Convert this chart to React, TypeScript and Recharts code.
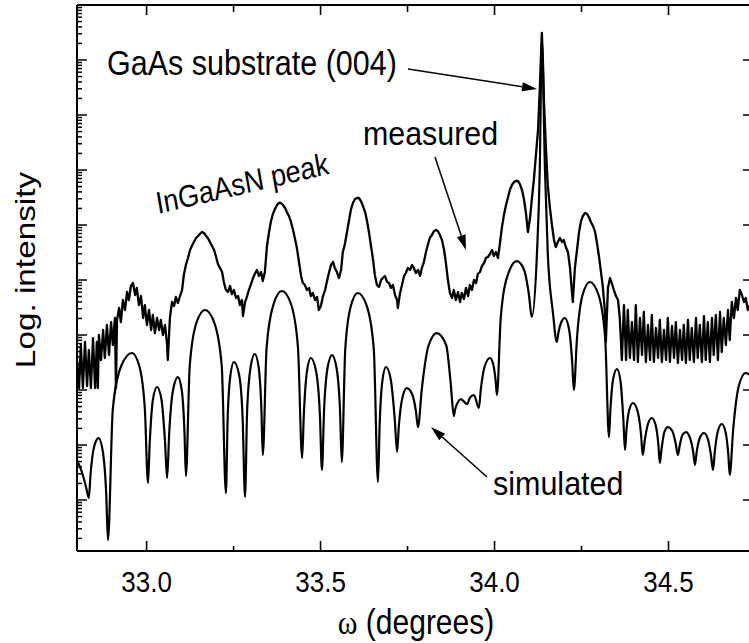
import React from 'react';
import { LineChart, Line, XAxis, YAxis } from 'recharts';

const FONT = '"Liberation Sans", Arial, Helvetica, sans-serif';
const STRETCH = 1.15;

// ---------- axes ----------
const X_DOMAIN: [number, number] = [32.8, 34.74];
const Y_DOMAIN: [number, number] = [-0.927, 9];
const xMajorTicks = [33.0, 33.5, 34.0, 34.5];
const xTickLabels = ['33.0', '33.5', '34.0', '34.5'];
const xMinorTicks = [33.25, 33.75, 34.25];
const yDecades = [0, 1, 2, 3, 4, 5, 6, 7, 8, 9];
const yMinorMultipliers = [2, 3, 4, 5, 6, 7, 8, 9];

// ---------- simulated curve (x in degrees, y = log10 intensity) ----------
const simX = [
  32.800, 32.814, 32.826, 32.834, 32.839, 32.849, 32.862, 32.874, 32.884, 32.889,
  32.903, 32.927, 32.958, 32.979, 32.995, 33.004, 33.009, 33.018, 33.030, 33.043,
  33.053, 33.059, 33.065, 33.076, 33.090, 33.101, 33.109, 33.113, 33.124, 33.143,
  33.168, 33.195, 33.216, 33.228, 33.233, 33.241, 33.251, 33.266, 33.276, 33.283,
  33.289, 33.299, 33.311, 33.322, 33.330, 33.334, 33.345, 33.365, 33.389, 33.415,
  33.435, 33.447, 33.452, 33.461, 33.472, 33.487, 33.498, 33.504, 33.510, 33.520,
  33.533, 33.546, 33.556, 33.561, 33.571, 33.587, 33.607, 33.633, 33.653, 33.665,
  33.670, 33.678, 33.688, 33.702, 33.713, 33.720, 33.725, 33.735, 33.748, 33.763,
  33.774, 33.780, 33.791, 33.810, 33.834, 33.861, 33.874, 33.883, 33.887, 33.895,
  33.903, 33.921, 33.929, 33.941, 33.955, 33.961, 33.972, 33.987, 33.996, 34.003,
  34.007, 34.018, 34.039, 34.064, 34.084, 34.099, 34.107, 34.122, 34.130, 34.136,
  34.145, 34.153, 34.168, 34.179, 34.184, 34.192, 34.202, 34.214, 34.223, 34.228,
  34.237, 34.253, 34.274, 34.299, 34.318, 34.329, 34.333, 34.341, 34.352, 34.362,
  34.370, 34.375, 34.379, 34.387, 34.398, 34.411, 34.421, 34.426, 34.432, 34.441,
  34.452, 34.463, 34.471, 34.475, 34.480, 34.488, 34.498, 34.511, 34.521, 34.527,
  34.532, 34.540, 34.550, 34.561, 34.571, 34.576, 34.581, 34.590, 34.602, 34.613,
  34.622, 34.628, 34.633, 34.642, 34.653, 34.664, 34.672, 34.676, 34.686, 34.702,
  34.722, 34.738,
];
const simY = [
  0.727, 0.509, 0.236, 0.036, 0.473, 0.964, 1.127, 0.891, 0.109, -0.727,
  1.655, 2.436, 2.673, 2.436, 1.655, 0.309, 1.036, 1.818, 2.055, 1.818,
  1.055, 0.400, 1.218, 2.000, 2.236, 2.000, 1.218, 0.436, 2.436, 3.218,
  3.455, 3.218, 2.436, 0.127, 1.491, 2.273, 2.509, 2.273, 1.491, 0.055,
  1.636, 2.418, 2.655, 2.418, 1.636, 0.818, 2.782, 3.564, 3.800, 3.564,
  2.782, 0.764, 1.564, 2.345, 2.582, 2.345, 1.564, 0.545, 1.618, 2.400,
  2.636, 2.400, 1.618, 0.691, 2.745, 3.527, 3.764, 3.527, 2.745, 0.327,
  1.400, 2.182, 2.418, 2.182, 1.491, 0.873, 1.345, 1.855, 2.036, 1.927,
  1.618, 1.327, 2.018, 2.800, 3.036, 2.818, 2.127, 1.527, 1.655, 1.782,
  1.836, 1.745, 1.855, 1.909, 1.673, 2.036, 2.436, 2.582, 2.473, 2.182,
  1.909, 3.327, 4.109, 4.345, 4.200, 3.727, 3.327, 4.491, 6.000, 8.364,
  6.000, 4.491, 3.400, 2.873, 3.055, 3.236, 3.309, 3.109, 2.527, 2.000,
  2.945, 3.727, 3.964, 3.727, 2.945, 1.145, 1.636, 2.200, 2.382, 2.164,
  1.491, 0.909, 1.255, 1.636, 1.764, 1.618, 1.200, 0.818, 1.091, 1.382,
  1.491, 1.364, 1.000, 0.673, 0.927, 1.236, 1.327, 1.255, 1.018, 0.818,
  0.982, 1.182, 1.236, 1.145, 0.873, 0.636, 0.873, 1.127, 1.218, 1.109,
  0.818, 0.545, 0.873, 1.255, 1.382, 1.236, 0.818, 0.455, 1.291, 2.073,
  2.309, 2.255,
];

// ---------- measured curve ----------
const measX = [
  32.800, 32.806, 32.811, 32.817, 32.823, 32.829, 32.834, 32.840, 32.846, 32.852,
  32.857, 32.860, 32.863, 32.869, 32.875, 32.880, 32.886, 32.892, 32.898, 32.903,
  32.909, 32.912, 32.915, 32.921, 32.926, 32.932, 32.938, 32.944, 32.949, 32.955,
  32.961, 32.967, 32.972, 32.978, 32.984, 32.990, 32.995, 33.001, 33.007, 33.013,
  33.018, 33.024, 33.030, 33.036, 33.041, 33.047, 33.053, 33.059, 33.061, 33.067,
  33.073, 33.079, 33.084, 33.090, 33.096, 33.102, 33.107, 33.113, 33.119, 33.125,
  33.130, 33.136, 33.142, 33.148, 33.153, 33.159, 33.165, 33.171, 33.176, 33.182,
  33.188, 33.194, 33.199, 33.205, 33.211, 33.217, 33.222, 33.228, 33.234, 33.240,
  33.245, 33.251, 33.257, 33.263, 33.268, 33.274, 33.277, 33.283, 33.289, 33.294,
  33.300, 33.306, 33.311, 33.317, 33.323, 33.329, 33.334, 33.340, 33.346, 33.352,
  33.357, 33.363, 33.369, 33.375, 33.380, 33.386, 33.392, 33.398, 33.403, 33.409,
  33.415, 33.421, 33.426, 33.432, 33.438, 33.444, 33.449, 33.455, 33.461, 33.467,
  33.472, 33.478, 33.484, 33.490, 33.495, 33.501, 33.507, 33.513, 33.518, 33.524,
  33.530, 33.536, 33.541, 33.547, 33.553, 33.559, 33.564, 33.570, 33.576, 33.582,
  33.587, 33.593, 33.599, 33.605, 33.610, 33.616, 33.622, 33.628, 33.633, 33.639,
  33.645, 33.651, 33.656, 33.662, 33.668, 33.674, 33.679, 33.685, 33.691, 33.697,
  33.702, 33.708, 33.714, 33.720, 33.722, 33.728, 33.734, 33.740, 33.745, 33.751,
  33.757, 33.763, 33.768, 33.774, 33.780, 33.786, 33.791, 33.797, 33.803, 33.809,
  33.814, 33.820, 33.826, 33.832, 33.837, 33.843, 33.849, 33.855, 33.860, 33.866,
  33.872, 33.878, 33.883, 33.889, 33.895, 33.901, 33.906, 33.912, 33.918, 33.924,
  33.929, 33.935, 33.941, 33.947, 33.952, 33.958, 33.964, 33.970, 33.975, 33.981,
  33.987, 33.993, 33.998, 34.004, 34.010, 34.016, 34.021, 34.027, 34.033, 34.039,
  34.044, 34.050, 34.056, 34.061, 34.067, 34.073, 34.079, 34.084, 34.090, 34.096,
  34.102, 34.107, 34.113, 34.119, 34.125, 34.130, 34.133, 34.136, 34.139, 34.142,
  34.148, 34.153, 34.159, 34.165, 34.171, 34.176, 34.182, 34.188, 34.194, 34.199,
  34.205, 34.211, 34.217, 34.222, 34.225, 34.231, 34.237, 34.243, 34.248, 34.254,
  34.260, 34.266, 34.271, 34.277, 34.283, 34.289, 34.294, 34.300, 34.306, 34.311,
  34.317, 34.320, 34.326, 34.332, 34.337, 34.343, 34.349, 34.355, 34.360, 34.366,
  34.372, 34.378, 34.383, 34.389, 34.395, 34.401, 34.406, 34.412, 34.418, 34.424,
  34.429, 34.435, 34.441, 34.447, 34.452, 34.458, 34.464, 34.470, 34.475, 34.481,
  34.487, 34.493, 34.498, 34.504, 34.510, 34.516, 34.521, 34.527, 34.533, 34.539,
  34.544, 34.550, 34.556, 34.561, 34.567, 34.573, 34.579, 34.584, 34.590, 34.596,
  34.602, 34.607, 34.613, 34.619, 34.625, 34.630, 34.636, 34.642, 34.648, 34.653,
  34.659, 34.665, 34.671, 34.676, 34.682, 34.688, 34.694, 34.699, 34.705, 34.711,
  34.717, 34.722, 34.728, 34.734,
];
const measY = [
  2.545, 2.036, 2.818, 2.036, 2.873, 2.073, 2.727, 2.036, 2.945, 2.036,
  2.873, 2.036, 3.000, 2.545, 3.091, 2.582, 3.182, 2.636, 3.236, 2.818,
  3.309, 2.036, 3.273, 3.491, 3.236, 3.636, 3.455, 3.782, 3.636, 3.891,
  3.945, 3.727, 3.855, 3.545, 3.709, 3.309, 3.545, 3.182, 3.455, 3.091,
  3.364, 3.036, 3.309, 3.091, 3.273, 3.000, 3.182, 2.818, 2.545, 3.309,
  3.600, 3.527, 3.691, 3.582, 3.709, 3.818, 4.091, 4.273, 4.400, 4.545,
  4.618, 4.691, 4.764, 4.800, 4.836, 4.873, 4.855, 4.800, 4.764, 4.691,
  4.618, 4.545, 4.436, 4.291, 4.218, 4.145, 3.964, 3.818, 3.782, 3.891,
  3.745, 3.818, 3.673, 3.709, 3.545, 3.636, 3.345, 3.600, 3.709, 3.818,
  3.927, 4.036, 4.109, 4.182, 4.073, 4.145, 3.982, 4.145, 4.618, 4.873,
  5.055, 5.200, 5.291, 5.364, 5.400, 5.400, 5.364, 5.309, 5.236, 5.164,
  5.055, 4.909, 4.764, 4.582, 4.327, 4.073, 3.945, 3.909, 3.818, 3.855,
  3.709, 3.764, 3.636, 3.691, 3.455, 3.527, 3.709, 3.818, 3.964, 4.127,
  4.273, 4.327, 4.218, 4.145, 4.036, 4.182, 4.509, 4.655, 4.873, 5.091,
  5.273, 5.400, 5.473, 5.491, 5.491, 5.436, 5.345, 5.236, 5.091, 4.873,
  4.618, 4.364, 4.091, 3.909, 3.873, 4.000, 4.036, 4.073, 3.964, 3.945,
  3.855, 3.909, 3.727, 3.636, 3.491, 3.745, 3.909, 4.073, 4.127, 4.218,
  4.182, 4.273, 4.218, 4.127, 4.182, 4.073, 4.218, 4.327, 4.509, 4.655,
  4.764, 4.818, 4.891, 4.909, 4.891, 4.818, 4.727, 4.545, 4.327, 4.000,
  3.764, 3.673, 3.818, 3.636, 3.782, 3.600, 3.764, 3.655, 3.855, 3.709,
  3.909, 3.818, 4.000, 3.945, 4.109, 4.145, 4.255, 4.309, 4.400, 4.418,
  4.473, 4.545, 4.436, 4.509, 4.400, 4.691, 4.945, 5.182, 5.364, 5.509,
  5.636, 5.727, 5.782, 5.800, 5.800, 5.745, 5.636, 5.491, 5.236, 4.873,
  5.127, 5.455, 5.818, 6.273, 6.727, 7.455, 8.000, 8.491, 8.000, 7.273,
  6.364, 5.727, 5.327, 5.000, 4.727, 4.600, 4.691, 4.764, 4.691, 4.727,
  4.600, 4.509, 4.218, 3.818, 3.600, 4.218, 4.545, 4.873, 5.055, 5.164,
  5.218, 5.200, 5.145, 5.055, 4.982, 4.873, 4.691, 4.436, 4.145, 3.891,
  3.455, 2.873, 3.855, 4.036, 3.945, 3.818, 3.709, 3.636, 3.309, 2.545,
  3.545, 2.545, 3.455, 2.582, 3.236, 2.545, 3.545, 2.509, 3.309, 2.636,
  3.418, 2.509, 3.182, 2.545, 3.364, 2.509, 3.127, 2.582, 3.273, 2.509,
  3.091, 2.545, 3.309, 2.509, 3.164, 2.582, 3.236, 2.491, 3.091, 2.545,
  3.182, 2.491, 3.273, 2.545, 3.127, 2.509, 3.309, 2.582, 3.182, 2.509,
  3.345, 2.545, 3.236, 2.509, 3.309, 2.636, 3.364, 2.545, 3.418, 2.691,
  3.309, 2.818, 3.455, 2.909, 3.600, 3.309, 3.673, 3.455, 3.818, 3.727,
  3.600, 3.673, 3.455, 3.545,
];

const simData = simX.map((x, i) => ({ x, y: simY[i] }));
const measData = measX.map((x, i) => ({ x, y: measY[i] }));

// tick lists
const xTicks = [...xMajorTicks, ...xMinorTicks].sort((a, b) => a - b);
const yMinorTicks: number[] = [];
[-1, ...yDecades].forEach((d) => {
  yMinorMultipliers.forEach((m) => {
    const v = d + Math.log10(m);
    if (v > Y_DOMAIN[0] && v < Y_DOMAIN[1]) yMinorTicks.push(v);
  });
});
const yTicksLeft = [...yDecades, ...yMinorTicks].sort((a, b) => a - b);

const isMajorY = (v: number) => Math.abs(v - Math.round(v)) < 1e-6;
const majorXIndex = (v: number) => xMajorTicks.findIndex((t) => Math.abs(t - v) < 1e-6);

function BottomTick(props: any) {
  const { x, y, payload } = props;
  const idx = majorXIndex(payload.value);
  const major = idx >= 0;
  return (
    <g>
      <line x1={x} x2={x} y1={y} y2={y - (major ? 10 : 5)} stroke="#000" strokeWidth={1.6} />
      {major && (
        <text
          transform={`translate(${x},${y + 41}) scale(1,${STRETCH})`}
          textAnchor="middle"
          fontSize={26}
          fontFamily={FONT}
          fill="#000"
        >
          {xTickLabels[idx]}
        </text>
      )}
    </g>
  );
}

function TopTick(props: any) {
  const { x, y, payload } = props;
  const major = majorXIndex(payload.value) >= 0;
  return <line x1={x} x2={x} y1={y} y2={y + (major ? 10 : 7)} stroke="#000" strokeWidth={1.6} />;
}

function LeftTick(props: any) {
  const { x, y, payload } = props;
  const major = isMajorY(payload.value);
  return <line x1={x} x2={x + (major ? 10 : 5)} y1={y} y2={y} stroke="#000" strokeWidth={1.5} />;
}

function RightTick(props: any) {
  const { x, y } = props;
  return <line x1={x} x2={x - 9} y1={y} y2={y} stroke="#000" strokeWidth={1.5} />;
}

function Arrow({ x1, y1, x2, y2 }: { x1: number; y1: number; x2: number; y2: number }) {
  const dx = x2 - x1;
  const dy = y2 - y1;
  const L = Math.hypot(dx, dy);
  const ux = dx / L;
  const uy = dy / L;
  const hl = 15;
  const hw = 4.5;
  const bx = x2 - ux * hl;
  const by = y2 - uy * hl;
  const pts = `${x2},${y2} ${bx - uy * hw},${by + ux * hw} ${bx + uy * hw},${by - ux * hw}`;
  return (
    <g>
      <line x1={x1} y1={y1} x2={bx} y2={by} stroke="#000" strokeWidth={1.5} />
      <polygon points={pts} fill="#000" />
    </g>
  );
}

const axisLineStyle = { stroke: '#000', strokeWidth: 2 };

export default function App() {
  return (
    <div style={{ position: 'absolute', left: 0, top: 0, width: 749, height: 643, overflow: 'hidden', background: '#fff' }}>
      <LineChart width={749} height={643} margin={{ top: 4, right: -4, bottom: 91, left: 76 }}>
        <XAxis
          xAxisId="b"
          dataKey="x"
          type="number"
          orientation="bottom"
          domain={X_DOMAIN}
          allowDataOverflow
          ticks={xTicks}
          interval={0}
          height={1}
          tickSize={0}
          tickMargin={0}
          tickLine={false}
          axisLine={axisLineStyle}
          tick={(p: any) => <BottomTick {...p} />}
        />
        <XAxis
          xAxisId="t"
          dataKey="x"
          type="number"
          orientation="top"
          domain={X_DOMAIN}
          allowDataOverflow
          ticks={xTicks}
          interval={0}
          height={1}
          tickSize={0}
          tickMargin={0}
          tickLine={false}
          axisLine={axisLineStyle}
          tick={(p: any) => <TopTick {...p} />}
        />
        <YAxis
          yAxisId="l"
          type="number"
          orientation="left"
          domain={Y_DOMAIN}
          allowDataOverflow
          ticks={yTicksLeft}
          interval={0}
          width={1}
          tickSize={0}
          tickMargin={0}
          tickLine={false}
          axisLine={axisLineStyle}
          tick={(p: any) => <LeftTick {...p} />}
        />
        <YAxis
          yAxisId="r"
          type="number"
          orientation="right"
          domain={Y_DOMAIN}
          allowDataOverflow
          ticks={yDecades}
          interval={0}
          width={1}
          tickSize={0}
          tickMargin={0}
          tickLine={false}
          axisLine={axisLineStyle}
          tick={(p: any) => <RightTick {...p} />}
        />
        <Line
          xAxisId="b"
          yAxisId="l"
          data={simData}
          dataKey="y"
          type="monotoneX"
          stroke="#000"
          strokeWidth={2.2}
          dot={false}
          activeDot={false}
          isAnimationActive={false}
        />
        <Line
          xAxisId="b"
          yAxisId="l"
          data={measData}
          dataKey="y"
          type="linear"
          stroke="#000"
          strokeWidth={2.3}
          strokeLinejoin="round"
          dot={false}
          activeDot={false}
          isAnimationActive={false}
        />
      </LineChart>
      <svg
        width={749}
        height={643}
        style={{ position: 'absolute', left: 0, top: 0, pointerEvents: 'none' }}
        fontFamily={FONT}
        fill="#000"
      >
        <text transform={`translate(107,75) scale(1,${STRETCH})`} fontSize={30.5}>
          GaAs substrate (004)
        </text>
        <Arrow x1={408} y1={69} x2={537} y2={89} />
        <text transform={`translate(363,145) scale(1,1.1)`} fontSize={30.4}>
          measured
        </text>
        <Arrow x1={435} y1={157} x2={466} y2={250} />
        <text transform={`translate(158,214) scale(1,${STRETCH}) rotate(-11.5)`} fontSize={27}>
          InGaAsN peak
        </text>
        <text transform={`translate(493,495) scale(1,1.1)`} fontSize={30.5}>
          simulated
        </text>
        <Arrow x1={487} y1={477} x2={431} y2={427} />
        <text transform={`translate(416,634) scale(1,${STRETCH})`} textAnchor="middle" fontSize={30}>
          <tspan fontFamily='"Liberation Serif", "Times New Roman", serif'>ω</tspan> (degrees)
        </text>
        <text transform={`translate(35,270) scale(1,1.19) rotate(-90)`} textAnchor="middle" fontSize={28}>
          Log. intensity
        </text>
      </svg>
    </div>
  );
}
